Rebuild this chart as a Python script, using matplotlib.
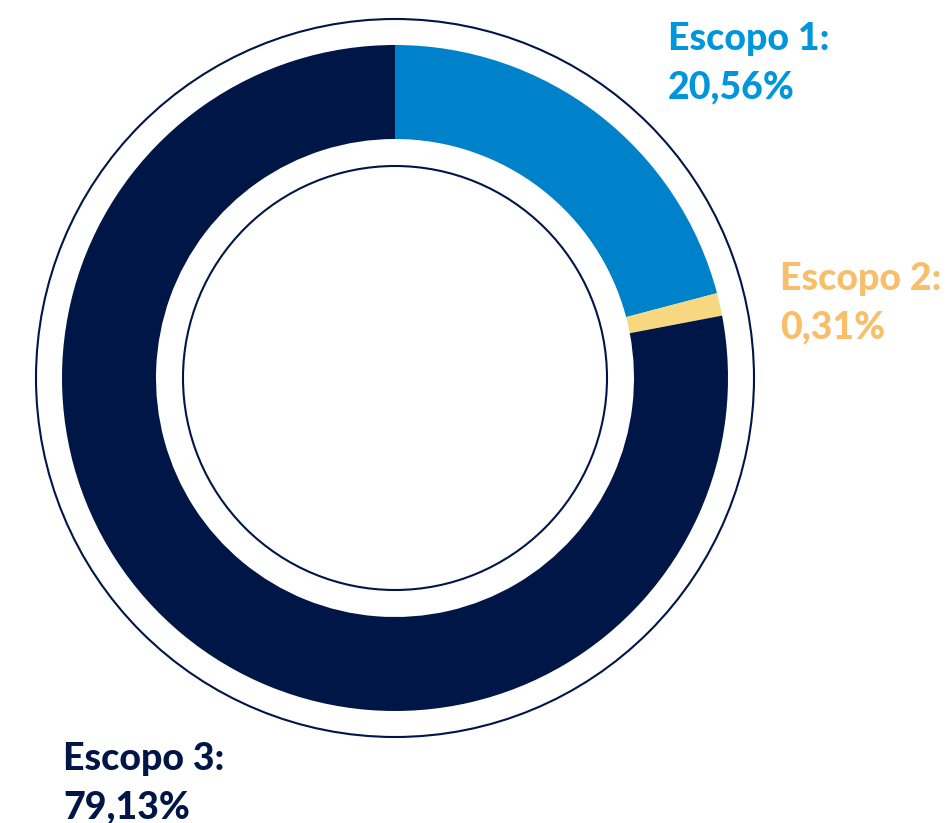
import matplotlib
matplotlib.use("Agg")
import matplotlib.pyplot as plt
from matplotlib.patches import Circle

# Data
categories = ["Escopo 1:", "Escopo 2:", "Escopo 3:"]
value_labels = ["20,56%", "0,31%", "79,13%"]
# slice sizes as drawn in the reference (small slice drawn enlarged)
shares = [20.9, 1.1, 78.0]
slice_colors = ["#0082CA", "#F7D77F", "#001646"]
text_colors = ["#0096DB", "#F8BE6A", "#001646"]

W, H = 950, 823
fig = plt.figure(figsize=(W / 100, H / 100), dpi=100)
ax = fig.add_axes([0, 0, 1, 1])
ax.set_xlim(0, W)
ax.set_ylim(0, H)
ax.set_aspect("equal")
ax.axis("off")

cx, cy = 395, H - 378
ax.pie(shares, colors=slice_colors, startangle=90, counterclock=False,
       radius=333, center=(cx, cy), frame=True,
       wedgeprops=dict(width=94, linewidth=0))
ax.set_xlim(0, W)
ax.set_ylim(0, H)
ax.axis("off")

for r in (359, 212):
    ax.add_patch(Circle((cx, cy), r, fill=False, edgecolor="#001646", linewidth=1.5))

positions = [(668, 50), (780, 290), (63, 770)]
for cat, lab, col, (x, yb) in zip(categories, value_labels, text_colors, positions):
    ax.text(x, H - yb, cat, color=col, fontsize=27, fontweight=900,
            family="Lato", va="baseline", ha="left")
    ax.text(x, H - (yb + 48), lab, color=col, fontsize=27, fontweight=900,
            family="Lato", va="baseline", ha="left")

fig.savefig("out.png", dpi=100)
